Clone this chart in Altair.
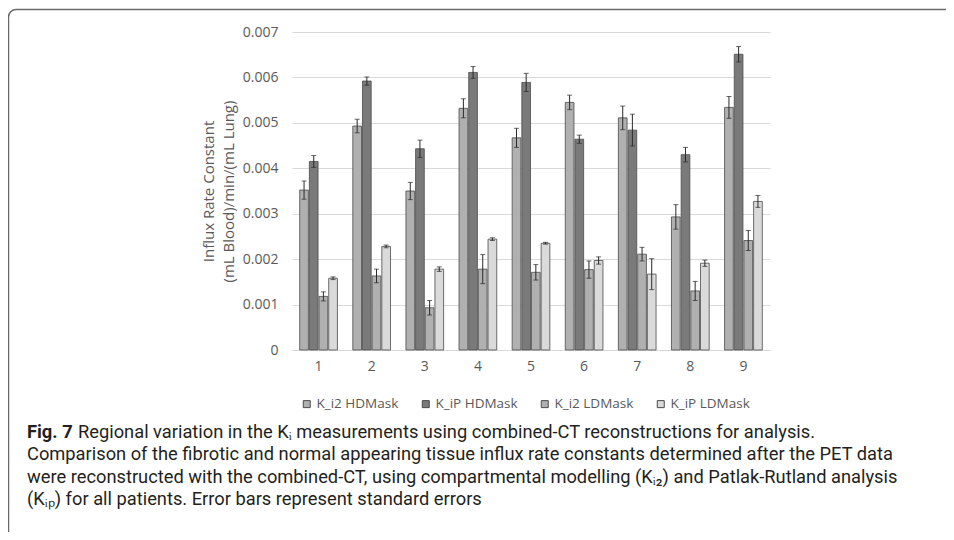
import altair as alt
import pandas as pd

# ---------------- data ----------------
patients = ["1", "2", "3", "4", "5", "6", "7", "8", "9"]
series_names = ["K_i2 HDMask", "K_iP HDMask", "K_i2 LDMask", "K_iP LDMask"]

i2_hd = [0.00352, 0.00493, 0.00350, 0.00532, 0.00467, 0.00545, 0.00511, 0.00293, 0.00534]
i2_hd_err = [0.00020, 0.00015, 0.00019, 0.00021, 0.00021, 0.00016, 0.00026, 0.00027, 0.00024]
ip_hd = [0.00415, 0.00592, 0.00443, 0.00611, 0.00589, 0.00464, 0.00484, 0.00430, 0.00651]
ip_hd_err = [0.00013, 0.00009, 0.00019, 0.00013, 0.00020, 0.00009, 0.00035, 0.00016, 0.00017]
i2_ld = [0.00118, 0.00163, 0.00093, 0.00178, 0.00171, 0.00177, 0.00211, 0.00130, 0.00241]
i2_ld_err = [0.00010, 0.00015, 0.00016, 0.00032, 0.00017, 0.00019, 0.00015, 0.00021, 0.00022]
ip_ld = [0.00158, 0.00228, 0.00178, 0.00244, 0.00235, 0.00197, 0.00167, 0.00191, 0.00327]
ip_ld_err = [0.00003, 0.00003, 0.00005, 0.00003, 0.00002, 0.00008, 0.00034, 0.00007, 0.00013]

y_ticks = [0, 0.001, 0.002, 0.003, 0.004, 0.005, 0.006, 0.007]
y_title = ["Influx Rate Constant", "(mL Blood)/min/(mL Lung)"]

caption_fig = "Fig. 7"
caption_lines = [
    "Regional variation in the K\u1d62 measurements using combined-CT reconstructions for analysis.",
    "Comparison of the fibrotic and normal appearing tissue influx rate constants determined after the PET data",
    "were reconstructed with the combined-CT, using compartmental modelling (K\u1d62\u2082) and Patlak-Rutland analysis",
    "(K\u1d62\u209a) for all patients. Error bars represent standard errors",
]

series_colors = ["#b0b0b0", "#7a7a7a", "#b0b0b0", "#dadada"]

rows = []
for name, vals, errs in zip(series_names,
                            [i2_hd, ip_hd, i2_ld, ip_ld],
                            [i2_hd_err, ip_hd_err, i2_ld_err, ip_ld_err]):
    for p, v, e in zip(patients, vals, errs):
        rows.append({"patient": p, "series": name, "value": v, "lo": v - e, "hi": v + e})
df = pd.DataFrame(rows)

# ---------------- styling ----------------
AX_FONT = "Open Sans"
CAP_FONT = "Roboto"
GRID = "#d9d9d9"
TXT = "#595959"

x_scale = alt.Scale(paddingInner=0.29, paddingOuter=0.145)
x_axis = alt.Axis(title=None, labelAngle=0, ticks=False, domainColor=GRID,
                  domainWidth=1, labelPadding=9, labelFont=AX_FONT,
                  labelFontSize=14, labelColor=TXT, grid=False)
y_scale = alt.Scale(domain=[0, 0.007], nice=False)
y_axis = alt.Axis(values=y_ticks, title=y_title, domain=False, ticks=False,
                  gridColor=GRID, gridWidth=1, labelPadding=14,
                  labelExpr="datum.value == 0 ? '0' : format(datum.value, '.3f')",
                  labelFont=AX_FONT, labelFontSize=14, labelColor=TXT,
                  titleFont=AX_FONT, titleFontSize=15, titleColor=TXT,
                  titleFontWeight="normal", titlePadding=6, titleLineHeight=20)

x_enc = alt.X("patient:N", sort=patients, scale=x_scale, axis=x_axis)
xo_enc = alt.XOffset("series:N", sort=series_names, scale=alt.Scale(paddingInner=0.1))

bars = alt.Chart(df).mark_bar(stroke="#4a4a4a", strokeWidth=0.8).encode(
    x=x_enc,
    xOffset=xo_enc,
    y=alt.Y("value:Q", scale=y_scale, axis=y_axis),
    color=alt.Color("series:N", sort=series_names,
                    scale=alt.Scale(domain=series_names, range=series_colors),
                    legend=alt.Legend(title=None, orient="none", direction="horizontal",
                                      legendX=8, legendY=365, symbolType="square",
                                      symbolSize=49, symbolStrokeColor="#4a4a4a",
                                      symbolStrokeWidth=1, labelFont=AX_FONT,
                                      labelFontSize=13.5, labelColor=TXT, labelOffset=3,
                                      columnPadding=20)),
)

rules = alt.Chart(df).mark_rule(color="#2a2a2a", strokeWidth=1).encode(
    x=x_enc, xOffset=xo_enc, y=alt.Y("lo:Q", scale=y_scale, axis=y_axis), y2="hi:Q")
caps_hi = alt.Chart(df).mark_tick(color="#2a2a2a", thickness=1, size=5).encode(
    x=x_enc, xOffset=xo_enc, y=alt.Y("hi:Q", scale=y_scale, axis=y_axis))
caps_lo = alt.Chart(df).mark_tick(color="#2a2a2a", thickness=1, size=5).encode(
    x=x_enc, xOffset=xo_enc, y=alt.Y("lo:Q", scale=y_scale, axis=y_axis))

# figure frame (decoration): top and left edges with a rounded corner
one = pd.DataFrame({"f": [0]})
FRAME = "#6a6a6a"
frame_top = alt.Chart(one).mark_rule(color=FRAME, strokeWidth=1.5).encode(
    x=alt.value(-276), x2=alt.value(2000), y=alt.value(-22.5))
frame_left = alt.Chart(one).mark_rule(color=FRAME, strokeWidth=1.5).encode(
    x=alt.value(-283.5), y=alt.value(-15), y2=alt.value(2000))
frame_corner = alt.Chart(one).mark_arc(
    color=FRAME, radius=8.25, radius2=6.75, theta=4.7124, theta2=6.2832).encode(
    x=alt.value(-276), y=alt.value(-15))


def cap_text(s, xv, yv, bold=False):
    return alt.Chart(pd.DataFrame({"t": [s]})).mark_text(
        align="left", baseline="middle", font=CAP_FONT, fontSize=18.3,
        fontWeight="bold" if bold else "normal", color="#231f20").encode(
        text="t:N", x=alt.value(xv), y=alt.value(yv))


cap_layers = [cap_text(caption_fig, -265, 401, bold=True),
              cap_text(caption_lines[0], -214, 401),
              cap_text(caption_lines[1], -265, 423),
              cap_text(caption_lines[2], -265, 446),
              cap_text(caption_lines[3], -265, 468)]

chart = alt.layer(bars, rules, caps_hi, caps_lo, frame_top, frame_left, frame_corner,
                  *cap_layers).properties(
    width=478, height=318,
    autosize=alt.AutoSizeParams(type="none"),
    padding={"left": 284, "top": 24, "right": 176, "bottom": 182},
    background="white",
).configure_view(strokeWidth=0)

chart.save("out.html", embed_options={"renderer": "svg", "actions": False})
